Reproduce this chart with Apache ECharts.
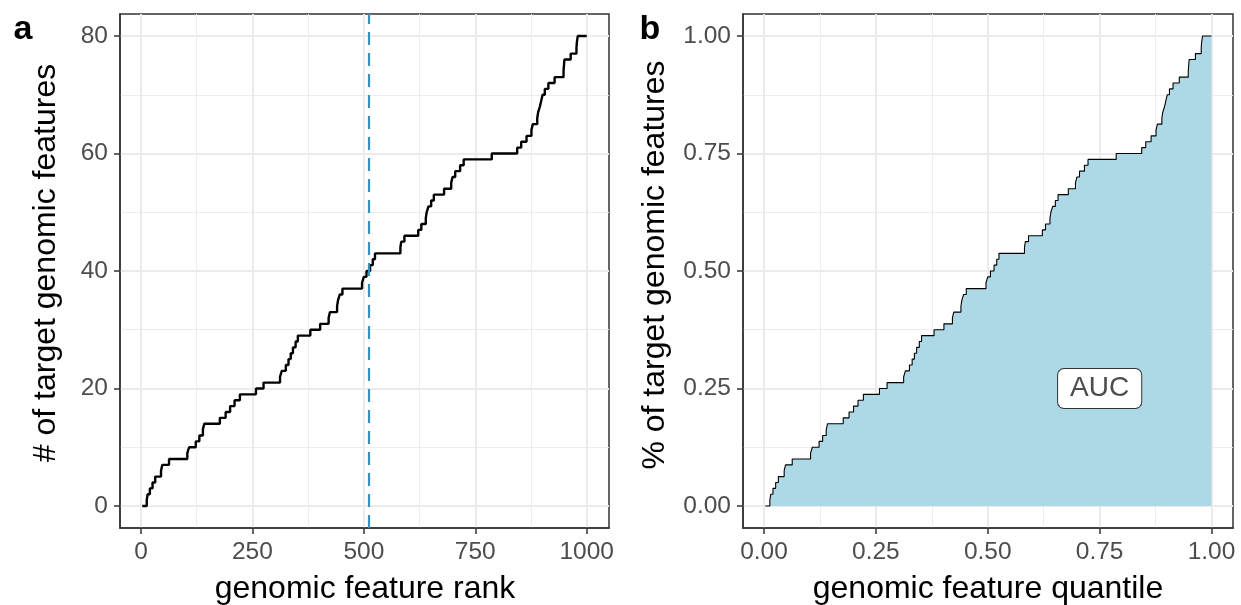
<!DOCTYPE html>
<html>
<head>
<meta charset="utf-8">
<script src="https://cdn.jsdelivr.net/npm/echarts@6/dist/echarts.min.js"></script>
<style>html,body{margin:0;padding:0;background:#fff}#chart{width:1241px;height:605px}</style>
</head>
<body>
<div id="chart"></div>
<script>
// ---- data ----
// rank at which the cumulative count of target features increases by one (80 targets)
const targetRanks = [13, 15, 20, 26, 32, 45, 48, 63, 104, 108,
  123, 131, 139, 142, 177, 190, 200, 210, 222, 258,
  275, 312, 316, 325, 331, 336, 341, 347, 352, 380,
  402, 421, 424, 440, 442, 446, 452, 496, 500, 506,
  514, 520, 525, 582, 584, 591, 622, 629, 639, 641,
  645, 651, 657, 680, 696, 699, 705, 716, 724, 787,
  844, 853, 865, 876, 879, 889, 891, 895, 898, 901,
  906, 914, 928, 948, 949, 950, 964, 977, 978, 980];
const rankStart = 3;
const rankEnd = 1000;
const totalRanks = 1000;
const totalTargets = 80;
const cutoffRank = 510;
const aucLabelPos = [0.75, 0.25];

const xTicksA = [0, 250, 500, 750, 1000];
const xMinorA = [125, 375, 625, 875];
const yTicksA = [0, 20, 40, 60, 80];
const yMinorA = [10, 30, 50, 70];
const xTicksB = [0, 0.25, 0.5, 0.75, 1];
const xMinorB = [0.125, 0.375, 0.625, 0.875];
const yTicksB = [0, 0.25, 0.5, 0.75, 1];
const yMinorB = [0.125, 0.375, 0.625, 0.875];

// ---- build series data ----
const countPoints = [[rankStart, 0]];
targetRanks.forEach((r, i) => countPoints.push([r, i + 1]));
countPoints.push([rankEnd, totalTargets]);
const fracPoints = countPoints.map(p => [p[0] / totalRanks, p[1] / totalTargets]);

const FONT = 'Liberation Sans, Arial, Helvetica, sans-serif';
const TICK_FS = 24.5;
const TITLE_FS = 32;

function majorAxis(grid, min, max, ticks, fmt, pos) {
  return {
    type: 'value', gridIndex: grid, min: min, max: max, position: pos,
    axisLine: {show: true, onZero: false, lineStyle: {color: '#333333', width: 1.5}},
    axisTick: {show: true, customValues: ticks, length: 6, lineStyle: {color: '#333333', width: 1.5}},
    axisLabel: {show: true, customValues: ticks, formatter: fmt, color: '#4d4d4d', fontSize: TICK_FS, fontFamily: FONT, margin: 12},
    splitLine: {show: true, lineStyle: {color: '#ebebeb', width: 2}},
    minorTick: {show: false}, minorSplitLine: {show: false}
  };
}
function minorAxis(grid, min, max, ticks, pos) {
  return {
    type: 'value', gridIndex: grid, min: min, max: max, position: pos,
    axisLine: {show: false, onZero: false},
    axisTick: {show: false, customValues: ticks},
    axisLabel: {show: false},
    splitLine: {show: true, lineStyle: {color: '#ededed', width: 1}}
  };
}
const f0 = v => String(Math.round(v));
const f2 = v => v.toFixed(2);

const gridTop = 14, gridH = 514;
const option = {
  animation: false,
  backgroundColor: '#ffffff',
  grid: [
    {left: 120, top: gridTop, width: 489, height: gridH, show: true, borderColor: '#333333', borderWidth: 1.5, backgroundColor: 'transparent'},
    {left: 743, top: gridTop, width: 490, height: gridH, show: true, borderColor: '#333333', borderWidth: 1.5, backgroundColor: 'transparent'}
  ],
  xAxis: [
    majorAxis(0, -47, 1050, xTicksA, f0, 'bottom'),
    minorAxis(0, -47, 1050, xMinorA, 'top'),
    majorAxis(1, -0.047, 1.048, xTicksB, f2, 'bottom'),
    minorAxis(1, -0.047, 1.048, xMinorB, 'top')
  ],
  yAxis: [
    majorAxis(0, -3.75, 83.75, yTicksA, f0, 'left'),
    minorAxis(0, -3.75, 83.75, yMinorA, 'right'),
    majorAxis(1, -0.0469, 1.0469, yTicksB, f2, 'left'),
    minorAxis(1, -0.0469, 1.0469, yMinorB, 'right')
  ],
  series: [
    {
      type: 'line', xAxisIndex: 0, yAxisIndex: 0, step: 'end', showSymbol: false, symbol: 'none',
      data: countPoints, z: 3,
      lineStyle: {color: '#000000', width: 2.4},
      markLine: {
        silent: true, symbol: ['none', 'none'], label: {show: false},
        lineStyle: {color: '#3690c0', width: 2.2, type: [13, 8]},
        data: [{xAxis: cutoffRank}]
      }
    },
    {
      type: 'line', xAxisIndex: 2, yAxisIndex: 2, step: 'end', showSymbol: false, symbol: 'none',
      data: fracPoints, z: 3,
      lineStyle: {color: '#000000', width: 1.1},
      areaStyle: {color: '#add8e6', opacity: 1},
      markPoint: {
        silent: true, symbol: 'circle', symbolSize: 1, itemStyle: {color: 'rgba(0,0,0,0)'},
        label: {
          show: true, position: 'inside', formatter: 'AUC', color: '#4d4d4d', fontSize: 28, fontFamily: FONT,
          backgroundColor: '#ffffff', borderColor: '#333333', borderWidth: 1, borderRadius: 6, padding: [6, 12, 5, 12]
        },
        data: [{coord: aucLabelPos}]
      }
    }
  ],
  graphic: [
    {type: 'text', x: 23, y: 30, style: {text: 'a', font: 'bold 34px ' + FONT, fill: '#000', textAlign: 'center', textVerticalAlign: 'middle'}},
    {type: 'text', x: 650, y: 30, style: {text: 'b', font: 'bold 34px ' + FONT, fill: '#000', textAlign: 'center', textVerticalAlign: 'middle'}},
    {type: 'text', x: 365, y: 589, style: {text: 'genomic feature rank', font: TITLE_FS + 'px ' + FONT, fill: '#000', textAlign: 'center', textVerticalAlign: 'middle'}},
    {type: 'text', x: 988, y: 589, style: {text: 'genomic feature quantile', font: TITLE_FS + 'px ' + FONT, fill: '#000', textAlign: 'center', textVerticalAlign: 'middle'}},
    {type: 'text', x: 46, y: 263, rotation: Math.PI / 2, style: {text: '# of target genomic features', font: TITLE_FS + 'px ' + FONT, fill: '#000', textAlign: 'center', textVerticalAlign: 'middle'}},
    {type: 'text', x: 655, y: 265, rotation: Math.PI / 2, style: {text: '% of target genomic features', font: TITLE_FS + 'px ' + FONT, fill: '#000', textAlign: 'center', textVerticalAlign: 'middle'}}
  ]
};
const chart = echarts.init(document.getElementById('chart'), null, {renderer: 'canvas'});
chart.setOption(option);
</script>
</body>
</html>
